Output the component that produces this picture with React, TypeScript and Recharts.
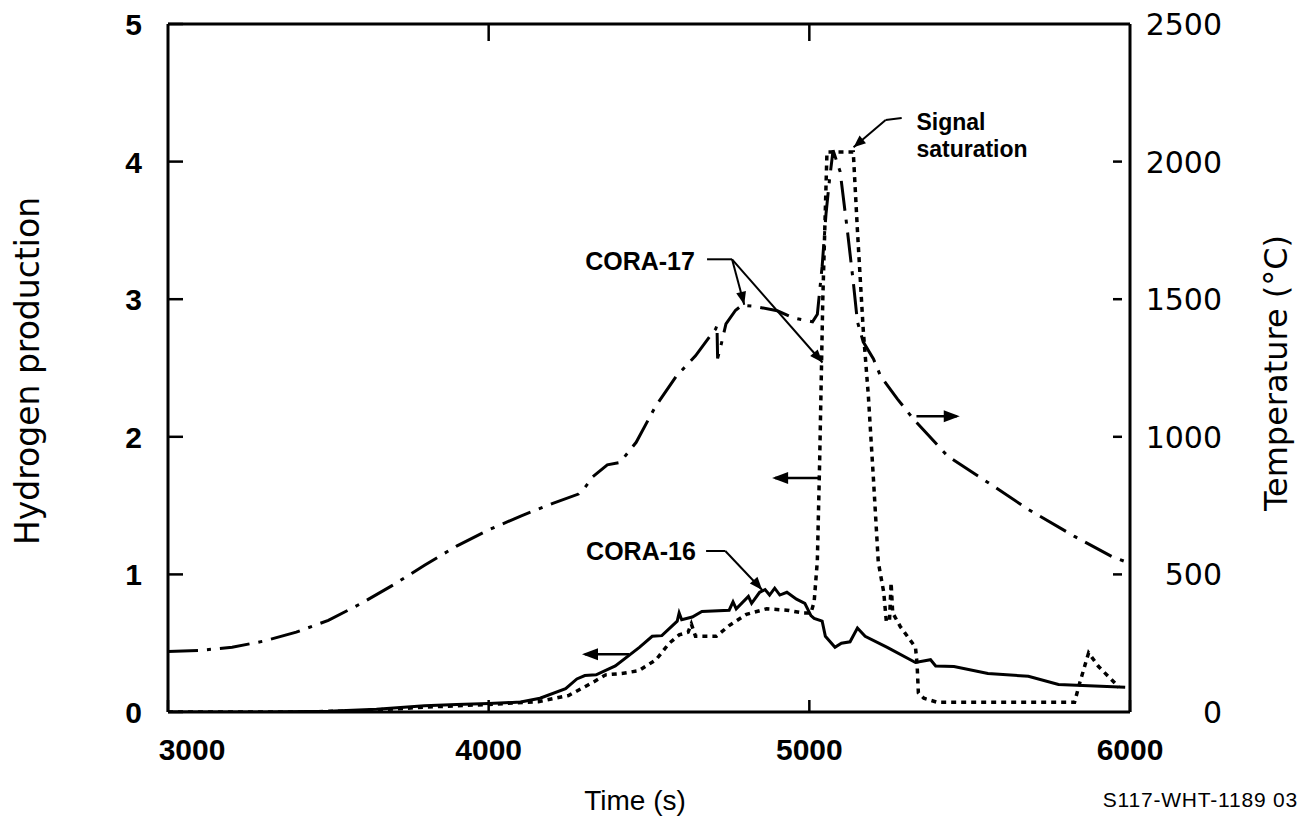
import React from 'react';
import { LineChart, Line, XAxis, YAxis, ReferenceLine, ReferenceDot, Label } from 'recharts';

// ---- axes ----
const timeTicks = [3000, 4000, 5000, 6000];
const topTicks = [4000, 5000];
const h2Ticks = [0, 1, 2, 3, 4, 5];
const tempTicks = [0, 500, 1000, 1500, 2000, 2500];

// ---- CORA-17 temperature (right axis, dash-dot) ----
const tempTime = [3000, 3100, 3200, 3300, 3400, 3500, 3600, 3700, 3800, 3900, 4000, 4100, 4200, 4280, 4300, 4325, 4370, 4410, 4460, 4520, 4585, 4645, 4690, 4708, 4712, 4714, 4722, 4740, 4770, 4790, 4830, 4900, 4950, 5010, 5025, 5040, 5052, 5063, 5074, 5096, 5118, 5137, 5150, 5168, 5200, 5222, 5275, 5325, 5432, 5557, 5683, 5827, 5943, 6000];
const tempValue = [220, 224, 235, 258, 290, 333, 393, 460, 533, 603, 662, 712, 758, 792, 815, 855, 898, 907, 980, 1110, 1220, 1294, 1365, 1392, 1405, 1285, 1320, 1410, 1460, 1478, 1474, 1458, 1432, 1418, 1445, 1620, 1810, 1935, 2041, 1964, 1756, 1563, 1418, 1345, 1283, 1221, 1137, 1064, 929, 834, 736, 638, 565, 540];

// ---- CORA-16 hydrogen (left axis, solid) ----
const solidTime = [3000, 3300, 3500, 3650, 3800, 3900, 4000, 4100, 4160, 4240, 4275, 4300, 4335, 4395, 4470, 4510, 4540, 4588, 4594, 4602, 4635, 4665, 4750, 4762, 4772, 4810, 4820, 4845, 4862, 4876, 4892, 4908, 4930, 4960, 4986, 5005, 5015, 5040, 5050, 5080, 5100, 5127, 5150, 5174, 5243, 5331, 5378, 5394, 5451, 5557, 5683, 5777, 5871, 5985];
const solidValue = [0, 0, 0.005, 0.02, 0.045, 0.055, 0.062, 0.072, 0.1, 0.17, 0.24, 0.265, 0.27, 0.335, 0.47, 0.55, 0.555, 0.66, 0.72, 0.67, 0.69, 0.73, 0.74, 0.8, 0.75, 0.84, 0.79, 0.87, 0.89, 0.85, 0.9, 0.85, 0.87, 0.82, 0.79, 0.7, 0.68, 0.66, 0.55, 0.47, 0.5, 0.51, 0.61, 0.55, 0.47, 0.36, 0.38, 0.335, 0.33, 0.28, 0.26, 0.2, 0.19, 0.18];

// ---- CORA-17 hydrogen (left axis, dotted) ----
const dottedTime = [3000, 3400, 3600, 3800, 4000, 4155, 4249, 4321, 4365, 4415, 4468, 4522, 4563, 4594, 4622, 4632, 4645, 4710, 4751, 4804, 4867, 4930, 4980, 5005, 5015, 5025, 5032, 5042, 5055, 5137, 5150, 5168, 5184, 5200, 5215, 5232, 5240, 5250, 5255, 5260, 5284, 5331, 5336, 5340, 5357, 5400, 5827, 5843, 5871, 5902, 5953, 5965];
const dottedValue = [0, 0, 0.008, 0.035, 0.055, 0.075, 0.12, 0.21, 0.27, 0.28, 0.3, 0.38, 0.5, 0.56, 0.58, 0.64, 0.55, 0.55, 0.63, 0.71, 0.75, 0.74, 0.72, 0.72, 0.8, 1.1, 1.8, 3.0, 4.07, 4.07, 3.5, 2.78, 2.3, 1.69, 1.09, 0.87, 0.66, 0.66, 0.94, 0.72, 0.62, 0.47, 0.35, 0.14, 0.1, 0.07, 0.07, 0.21, 0.43, 0.33, 0.21, 0.18];

const tempData = tempTime.map((t, i) => ({ t, v: tempValue[i] }));
const solidData = solidTime.map((t, i) => ({ t, v: solidValue[i] }));
const dottedData = dottedTime.map((t, i) => ({ t, v: dottedValue[i] }));

const BOLD = '"Liberation Sans", Arial, Helvetica, sans-serif';
const LIGHT = '"DejaVu Sans", "Liberation Sans", sans-serif';

const LeftTick = (props: any) => {
  const { x, y, payload } = props;
  return (
    <g>
      <line x1={x} x2={x + 15} y1={y} y2={y} stroke="#000" strokeWidth={2.5} />
      <text x={x - 26} y={y + 11} textAnchor="end" fontFamily={BOLD} fontWeight={700} fontSize={30} fill="#000">
        {payload.value}
      </text>
    </g>
  );
};

const BottomTick = (props: any) => {
  const { x, y, payload } = props;
  const dx = payload.value === 3000 ? 24 : 0;
  return (
    <g>
      <line x1={x} x2={x} y1={y} y2={y - 12} stroke="#000" strokeWidth={2.5} />
      <text x={x + dx} y={y + 48} textAnchor="middle" fontFamily={BOLD} fontWeight={700} fontSize={30} fill="#000">
        {payload.value}
      </text>
    </g>
  );
};

const TopTick = (props: any) => {
  const { x, y } = props;
  return <line x1={x} x2={x} y1={y} y2={y + 17} stroke="#000" strokeWidth={2.5} />;
};

const RightTick = (props: any) => {
  const { x, y, payload } = props;
  const inner = payload.value > 0 && payload.value < 2500;
  return (
    <g>
      {inner && <line x1={x - 17} x2={x - 8} y1={y} y2={y} stroke="#000" strokeWidth={2.5} />}
      <text x={x + 92} y={y + 11} textAnchor="end" fontFamily={LIGHT} fontWeight={400} fontSize={30} fill="#000">
        {payload.value}
      </text>
    </g>
  );
};

const arrowHead = (angle: number, len: number, half: number) => (p: any) => {
  const { cx, cy } = p;
  return (
    <polygon
      points={`0,0 ${-len},${-half} ${-len},${half}`}
      transform={`translate(${cx} ${cy}) rotate(${angle})`}
      fill="#000"
    />
  );
};

const textShape = (label: string, anchor: 'start' | 'middle', size: number) => (p: any) => {
  const { cx, cy } = p;
  return (
    <text x={cx} y={cy} textAnchor={anchor} fontFamily={BOLD} fontWeight={700} fontSize={size} fill="#000">
      {label}
    </text>
  );
};

const seg = (a: [number, number], b: [number, number]) => [
  { x: a[0], y: a[1] },
  { x: b[0], y: b[1] },
];

export default function App() {
  return (
    <div style={{ position: 'absolute', left: 0, top: 0, width: 1304, height: 822, background: '#fff' }}>
      <LineChart width={1304} height={822} margin={{ top: 0, right: 0, bottom: 0, left: 0 }}>
        <XAxis
          xAxisId="b"
          type="number"
          dataKey="t"
          domain={[3000, 6000]}
          ticks={timeTicks}
          allowDataOverflow
          height={110}
          tickSize={0}
          tickMargin={0}
          tick={<BottomTick />}
          axisLine={{ stroke: '#000', strokeWidth: 3 }}
          tickLine={false}
        >
          <Label
            content={(p: any) => {
              const vb = p.viewBox;
              return (
                <g>
                  <text x={vb.x + vb.width / 2 - 14} y={vb.y + 98} textAnchor="middle" fontFamily={BOLD} fontSize={28} fill="#000">
                    Time (s)
                  </text>
                  <text x={1298} y={vb.y + 95} textAnchor="end" fontFamily={BOLD} fontSize={21} letterSpacing={0.8} fill="#000">
                    S117-WHT-1189 03
                  </text>
                </g>
              );
            }}
          />
        </XAxis>
        <XAxis
          xAxisId="top"
          orientation="top"
          type="number"
          dataKey="t"
          domain={[3000, 6000]}
          ticks={topTicks}
          allowDataOverflow
          height={24}
          tickSize={0}
          tickMargin={0}
          tick={<TopTick />}
          axisLine={{ stroke: '#000', strokeWidth: 3 }}
          tickLine={false}
        />
        <YAxis
          yAxisId="left"
          type="number"
          domain={[0, 5]}
          ticks={h2Ticks}
          allowDataOverflow
          width={168}
          tickSize={0}
          tickMargin={0}
          tick={<LeftTick />}
          axisLine={{ stroke: '#000', strokeWidth: 3 }}
          tickLine={false}
        >
          <Label
            content={(p: any) => {
              const vb = p.viewBox;
              const cx = vb.x + 27;
              const cy = vb.y + vb.height / 2 + 3;
              return (
                <text x={cx} y={cy} transform={`rotate(-90 ${cx} ${cy})`} textAnchor="middle" dominantBaseline="central" fontFamily={LIGHT} fontSize={33} fill="#000">
                  Hydrogen production
                </text>
              );
            }}
          />
        </YAxis>
        <YAxis
          yAxisId="right"
          orientation="right"
          type="number"
          domain={[0, 2500]}
          ticks={tempTicks}
          allowDataOverflow
          width={174}
          tickSize={0}
          tickMargin={0}
          tick={<RightTick />}
          axisLine={{ stroke: '#000', strokeWidth: 3 }}
          tickLine={false}
        >
          <Label
            content={(p: any) => {
              const vb = p.viewBox;
              const cx = vb.x + 146;
              const cy = vb.y + vb.height / 2 + 5;
              return (
                <text x={cx} y={cy} transform={`rotate(-90 ${cx} ${cy})`} textAnchor="middle" dominantBaseline="central" fontFamily={LIGHT} fontWeight={400} fontSize={32} fill="#000">
                  Temperature (°C)
                </text>
              );
            }}
          />
        </YAxis>

        <Line xAxisId="b" yAxisId="right" data={tempData} dataKey="v" type="linear" stroke="#000" strokeWidth={3} strokeDasharray="30 9 4 9" dot={false} activeDot={false} isAnimationActive={false} />
        <Line xAxisId="b" yAxisId="left" data={solidData} dataKey="v" type="linear" stroke="#000" strokeWidth={3} dot={false} activeDot={false} isAnimationActive={false} />
        <Line xAxisId="b" yAxisId="left" data={dottedData} dataKey="v" type="linear" stroke="#000" strokeWidth={3.5} strokeDasharray="5 5" dot={false} activeDot={false} isAnimationActive={false} />

        {/* CORA-17 annotation */}
        <ReferenceLine xAxisId="b" yAxisId="left" segment={seg([4681, 3.29], [4759, 3.29])} stroke="#000" strokeWidth={2} ifOverflow="visible" />
        <ReferenceLine xAxisId="b" yAxisId="left" segment={seg([4759, 3.29], [4797, 2.96])} stroke="#000" strokeWidth={2} ifOverflow="visible" />
        <ReferenceLine xAxisId="b" yAxisId="left" segment={seg([4759, 3.29], [5041, 2.54])} stroke="#000" strokeWidth={2} ifOverflow="visible" />
        <ReferenceDot xAxisId="b" yAxisId="left" x={4797} y={2.96} r={0} ifOverflow="visible" shape={arrowHead(76, 13, 5)} />
        <ReferenceDot xAxisId="b" yAxisId="left" x={5041} y={2.54} r={0} ifOverflow="visible" shape={arrowHead(49, 13, 5)} />
        <ReferenceDot xAxisId="b" yAxisId="left" x={4472} y={3.21} r={0} ifOverflow="visible" shape={textShape('CORA-17', 'middle', 25)} />

        {/* CORA-16 annotation */}
        <ReferenceLine xAxisId="b" yAxisId="left" segment={seg([4678, 1.17], [4738, 1.17])} stroke="#000" strokeWidth={2} ifOverflow="visible" />
        <ReferenceLine xAxisId="b" yAxisId="left" segment={seg([4738, 1.17], [4853, 0.887])} stroke="#000" strokeWidth={2} ifOverflow="visible" />
        <ReferenceDot xAxisId="b" yAxisId="left" x={4853} y={0.887} r={0} ifOverflow="visible" shape={arrowHead(49, 13, 5)} />
        <ReferenceDot xAxisId="b" yAxisId="left" x={4475} y={1.105} r={0} ifOverflow="visible" shape={textShape('CORA-16', 'middle', 25)} />

        {/* Signal saturation annotation */}
        <ReferenceLine xAxisId="b" yAxisId="left" segment={seg([5288, 4.317], [5238, 4.302])} stroke="#000" strokeWidth={2} ifOverflow="visible" />
        <ReferenceLine xAxisId="b" yAxisId="left" segment={seg([5238, 4.302], [5138, 4.105])} stroke="#000" strokeWidth={2} ifOverflow="visible" />
        <ReferenceDot xAxisId="b" yAxisId="left" x={5138} y={4.105} r={0} ifOverflow="visible" shape={arrowHead(140, 12, 5)} />
        <ReferenceDot xAxisId="b" yAxisId="left" x={5334} y={4.23} r={0} ifOverflow="visible" shape={textShape('Signal', 'start', 23)} />
        <ReferenceDot xAxisId="b" yAxisId="left" x={5334} y={4.03} r={0} ifOverflow="visible" shape={textShape('saturation', 'start', 23)} />

        {/* axis direction arrows */}
        <ReferenceLine xAxisId="b" yAxisId="left" segment={seg([4438, 0.42], [4300, 0.42])} stroke="#000" strokeWidth={2.5} ifOverflow="visible" />
        <ReferenceDot xAxisId="b" yAxisId="left" x={4291} y={0.42} r={0} ifOverflow="visible" shape={arrowHead(180, 16, 6)} />
        <ReferenceLine xAxisId="b" yAxisId="left" segment={seg([5031, 1.7], [4893, 1.7])} stroke="#000" strokeWidth={2.5} ifOverflow="visible" />
        <ReferenceDot xAxisId="b" yAxisId="left" x={4884} y={1.7} r={0} ifOverflow="visible" shape={arrowHead(180, 16, 6)} />
        <ReferenceLine xAxisId="b" yAxisId="left" segment={seg([5334, 2.15], [5460, 2.15])} stroke="#000" strokeWidth={2.5} ifOverflow="visible" />
        <ReferenceDot xAxisId="b" yAxisId="left" x={5469} y={2.15} r={0} ifOverflow="visible" shape={arrowHead(0, 16, 6)} />
      </LineChart>
    </div>
  );
}
